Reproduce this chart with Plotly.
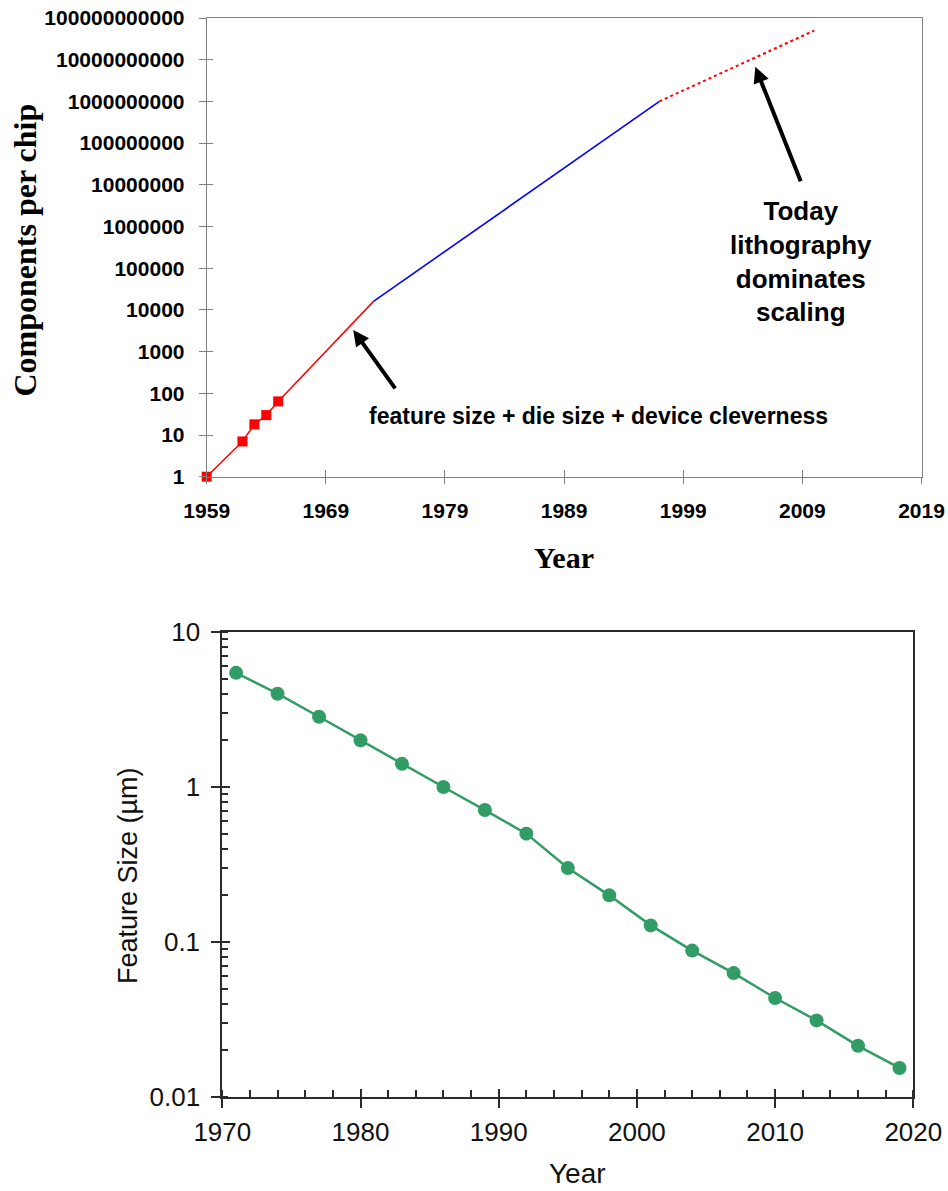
import plotly.graph_objects as go

# ---------------- data: top chart (components per chip) ----------------
moore_years = [1959, 1962, 1963, 1964, 1965]
moore_vals = [1, 7, 18, 30, 64]
red_years = [1959, 1962, 1963, 1964, 1965, 1973]
red_vals = [1, 7, 18, 30, 64, 16000]
blue_years = [1973, 1997]
blue_vals = [16000, 1000000000]
dot_years = [1997, 2010]
dot_vals = [1000000000, 50000000000]

top_xticks = [1959, 1969, 1979, 1989, 1999, 2009, 2019]
top_yticks = [1, 10, 100, 1000, 10000, 100000, 1000000, 10000000,
              100000000, 1000000000, 10000000000, 100000000000]
top_ytext = ["1", "10", "100", "1000", "10000", "100000", "1000000", "10000000",
             "100000000", "1000000000", "10000000000", "100000000000"]

# ---------------- data: bottom chart (feature size) ----------------
fs_years = [1971, 1974, 1977, 1980, 1983, 1986, 1989, 1992, 1995, 1998,
            2001, 2004, 2007, 2010, 2013, 2016, 2019]
fs_vals = [5.45, 4.0, 2.84, 2.0, 1.41, 1.0, 0.71, 0.5, 0.3, 0.2,
           0.128, 0.088, 0.063, 0.0435, 0.0312, 0.0214, 0.0154]
bot_xticks = [1970, 1980, 1990, 2000, 2010, 2020]
bot_yticks = [0.01, 0.1, 1, 10]
bot_ytext = ["0.01", "0.1", "1", "10"]

W, H = 948, 1191


def px(p):
    return p / W


def py(p):
    return 1 - p / H


SANS = "Liberation Sans, Arial, sans-serif"
SERIF = "Liberation Serif, Times New Roman, serif"
GRAY = "#808080"
DARK = "#2b2b2b"
GREEN = "#319c64"

fig = go.Figure()

# top chart traces
fig.add_trace(go.Scatter(x=red_years, y=red_vals, mode="lines",
                         line=dict(color="#ff0000", width=1.5),
                         xaxis="x", yaxis="y", showlegend=False))
fig.add_trace(go.Scatter(x=blue_years, y=blue_vals, mode="lines",
                         line=dict(color="#0000ff", width=1.6),
                         xaxis="x", yaxis="y", showlegend=False))
fig.add_trace(go.Scatter(x=dot_years, y=dot_vals, mode="lines",
                         line=dict(color="#ff0000", width=2, dash="dot"),
                         xaxis="x", yaxis="y", showlegend=False))
fig.add_trace(go.Scatter(x=moore_years, y=moore_vals, mode="markers",
                         marker=dict(color="#ff0000", size=10, symbol="square"),
                         cliponaxis=False,
                         xaxis="x", yaxis="y", showlegend=False))

# bottom chart trace
fig.add_trace(go.Scatter(x=fs_years, y=fs_vals, mode="lines+markers",
                         line=dict(color=GREEN, width=2.5),
                         marker=dict(color=GREEN, size=14),
                         cliponaxis=False,
                         xaxis="x2", yaxis="y2", showlegend=False))

# dummy traces so overlay axes (inside halves of crossing ticks) are drawn
for xa, ya in [("x3", "y"), ("x", "y3"), ("x4", "y2"), ("x2", "y4")]:
    fig.add_trace(go.Scatter(x=[None], y=[None], xaxis=xa, yaxis=ya,
                             showlegend=False, hoverinfo="skip"))

# domains (page pixels -> figure fractions)
tx0, tx1 = px(206.7), px(921.5)
ty0, ty1 = py(476.7), py(18)
bx0, bx1 = px(222.3), px(913.3)
by0, by1 = py(1097), py(632)

top_xfont = dict(family=SANS, size=21, color="black", weight="bold")
top_yfont = dict(family=SANS, size=21, color="black", weight="bold")
bot_font = dict(family=SANS, size=26, color="#111111")

fig.update_layout(
    width=W, height=H,
    margin=dict(l=0, r=0, t=0, b=0, autoexpand=False),
    paper_bgcolor="white", plot_bgcolor="white",
    showlegend=False,
    xaxis=dict(domain=[tx0, tx1], anchor="y", range=[1959, 2019],
               tickvals=top_xticks, ticks="outside", ticklen=6, tickwidth=1,
               tickcolor=GRAY, showline=True, linecolor=GRAY, linewidth=1,
               mirror=True, showgrid=False, zeroline=False, automargin=False,
               tickfont=top_xfont, ticklabelstandoff=9,
               ticklabeloverflow="allow"),
    yaxis=dict(domain=[ty0, ty1], anchor="x", type="log", range=[0, 11],
               tickvals=top_yticks, ticktext=top_ytext, ticks="outside",
               ticklen=7, tickwidth=1, tickcolor=GRAY, showline=True,
               linecolor=GRAY, linewidth=1, mirror=True, showgrid=False,
               zeroline=False, automargin=False, tickfont=top_yfont,
               ticklabelstandoff=10, ticklabeloverflow="allow"),
    xaxis3=dict(overlaying="x", anchor="y", side="bottom", range=[1959, 2019],
                tickvals=top_xticks, ticks="inside", ticklen=7, tickwidth=1,
                tickcolor=GRAY, showticklabels=False, showline=False,
                showgrid=False, zeroline=False, automargin=False),
    yaxis3=dict(overlaying="y", anchor="x", side="left", type="log",
                range=[0, 11], tickvals=top_yticks, ticks="inside", ticklen=6,
                tickwidth=1, tickcolor=GRAY, showticklabels=False,
                showline=False, showgrid=False, zeroline=False,
                automargin=False),
    xaxis2=dict(domain=[bx0, bx1], anchor="y2", range=[1970, 2020],
                tickvals=bot_xticks, ticks="outside", ticklen=9, tickwidth=2,
                tickcolor=DARK, showline=True, linecolor=DARK, linewidth=2,
                mirror=True, showgrid=False, zeroline=False, automargin=False,
                tickfont=bot_font, ticklabelstandoff=2,
                ticklabeloverflow="allow",
                minor=dict(dtick=2, tick0=1970, ticks="inside", ticklen=7,
                           tickwidth=1.5, tickcolor=DARK, showgrid=False)),
    yaxis2=dict(domain=[by0, by1], anchor="x2", type="log", range=[-2, 1],
                tickvals=bot_yticks, ticktext=bot_ytext, ticks="outside",
                ticklen=9, tickwidth=2, tickcolor=DARK, showline=True,
                linecolor=DARK, linewidth=2, mirror=True, showgrid=False,
                zeroline=False, automargin=False, tickfont=bot_font,
                ticklabelstandoff=6, ticklabeloverflow="allow",
                minor=dict(dtick="D1", ticks="inside", ticklen=6,
                           tickwidth=1.5, tickcolor=DARK, showgrid=False)),
    xaxis4=dict(overlaying="x2", anchor="y2", side="bottom", range=[1970, 2020],
                tickvals=bot_xticks, ticks="inside", ticklen=8, tickwidth=2,
                tickcolor=DARK, showticklabels=False, showline=False,
                showgrid=False, zeroline=False, automargin=False),
    yaxis4=dict(overlaying="y2", anchor="x2", side="left", type="log",
                range=[-2, 1], tickvals=bot_yticks, ticks="inside", ticklen=8,
                tickwidth=2, tickcolor=DARK, showticklabels=False,
                showline=False, showgrid=False, zeroline=False,
                automargin=False),
)

ann = []
# axis titles
ann.append(dict(text="Components per chip", xref="paper", yref="paper",
                x=px(24.5), y=py(250), textangle=-90, showarrow=False,
                xanchor="center", yanchor="middle",
                font=dict(family=SERIF, size=32, color="black", weight="bold")))
ann.append(dict(text="Year", xref="paper", yref="paper",
                x=px(564), y=py(557), showarrow=False,
                xanchor="center", yanchor="middle",
                font=dict(family=SERIF, size=30, color="black", weight="bold")))
ann.append(dict(text="Feature Size (µm)", xref="paper", yref="paper",
                x=px(128), y=py(875), textangle=-90, showarrow=False,
                xanchor="center", yanchor="middle",
                font=dict(family=SANS, size=27, color="#111111")))
ann.append(dict(text="Year", xref="paper", yref="paper",
                x=px(577), y=py(1173), showarrow=False,
                xanchor="center", yanchor="middle",
                font=dict(family=SANS, size=28, color="#111111")))

# text notes in the top chart
ann.append(dict(text="feature size + die size + device cleverness",
                xref="x", yref="y", x=1991.9, y=1.45, showarrow=False,
                xanchor="center", yanchor="middle",
                font=dict(family=SANS, size=23, color="black", weight="bold")))
ann.append(dict(text="Today<br>lithography<br>dominates<br>scaling",
                xref="x", yref="y", x=2008.9, y=5.15, showarrow=False,
                xanchor="center", yanchor="middle", align="center",
                font=dict(family=SANS, size=26, color="black", weight="bold")))

# arrows
ann.append(dict(text="", xref="x", yref="y", x=1971.3, y=3.52, ax=43, ay=60,
                showarrow=True, arrowhead=2, arrowsize=0.8, arrowwidth=4,
                arrowcolor="black", standoff=0))
ann.append(dict(text="", xref="x", yref="y", x=2005.05, y=9.83, ax=46, ay=116,
                showarrow=True, arrowhead=2, arrowsize=0.8, arrowwidth=4,
                arrowcolor="black", standoff=0))

fig.update_layout(annotations=ann)
fig.write_html("out.html",
               config={"displayModeBar": False},
               post_script="document.body.style.margin='0';"
                           "document.body.style.padding='0';")
